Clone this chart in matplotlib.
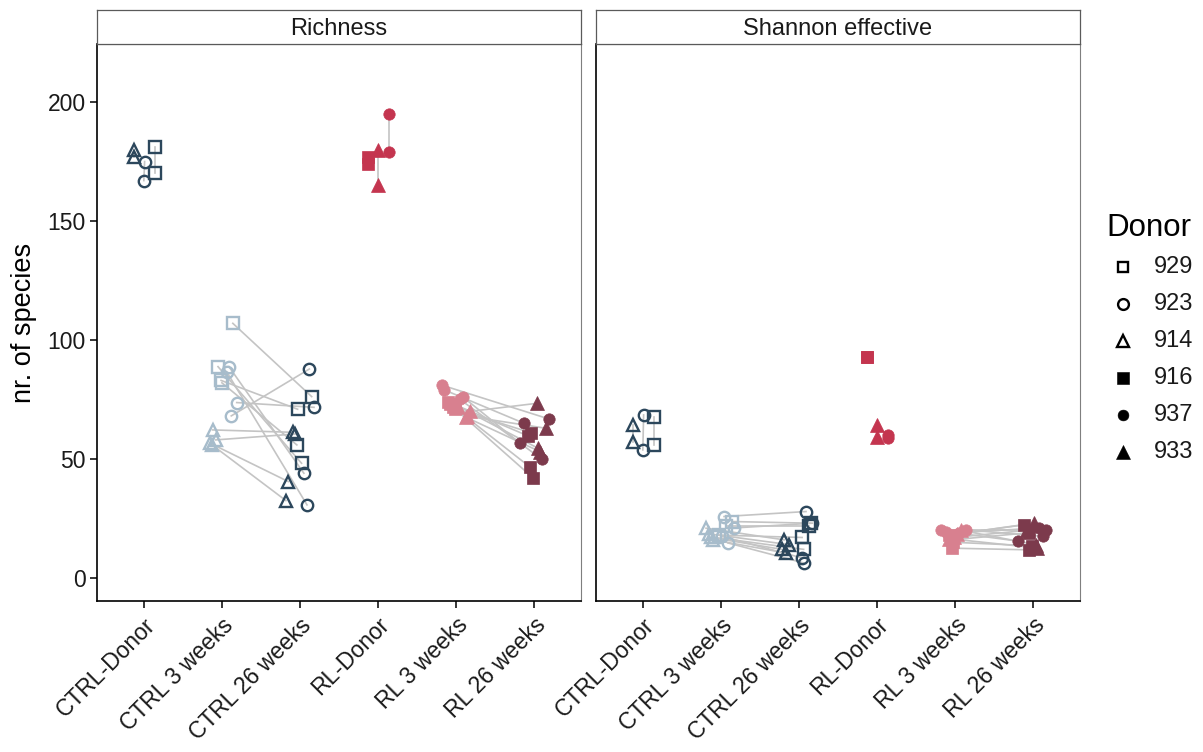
import matplotlib
matplotlib.use("Agg")
import matplotlib.pyplot as plt
from matplotlib.lines import Line2D
import numpy as np

plt.rcParams['font.family'] = ['Liberation Sans', 'DejaVu Sans']

# ---------------- data ----------------
categories = ["CTRL-Donor", "CTRL 3 weeks", "CTRL 26 weeks", "RL-Donor", "RL 3 weeks", "RL 26 weeks"]
panels = ["Richness", "Shannon effective"]
donor_labels = ["929", "923", "914", "916", "937", "933"]

# donor samples (two per donor)
ctrl_donor_ids = ["929", "929", "923", "923", "914", "914"]
rich_ctrl_donor = [181, 170, 175, 167, 180, 177]
shan_ctrl_donor = [67.8, 55.9, 68.5, 53.8, 64.3, 57.3]
ctrl_donor_jit = [0.14, 0.14, 0.01, 0.0, -0.13, -0.13]

rl_donor_ids = ["916", "916", "937", "937", "933", "933"]
rich_rl_donor = [177, 174, 195, 179, 180, 165]
shan_rl_donor = [93, 93, 60, 58.7, 64.3, 59.4]
rl_donor_jit = [-0.13, -0.13, 0.14, 0.14, 0.0, 0.0]

# CTRL mice (paired 3 weeks -> 26 weeks)
ctrl_mouse_ids = ["929"] * 4 + ["923"] * 4 + ["914"] * 4
rich_ctrl_3w = [107, 88.8, 83, 82, 88.8, 86.7, 73.7, 68.1, 62.2, 58, 56.6, 56]
rich_ctrl_26w = [76.2, 48.2, 70.9, 55.9, 44, 30.7, 71.7, 87.8, 61.2, 60.5, 40.5, 32.5]
rich_ctrl_3w_jit = [0.14, -0.05, -0.01, 0.0, 0.09, 0.06, 0.19, 0.12, -0.12, -0.08, -0.15, -0.13]
rich_ctrl_26w_jit = [0.15, 0.02, -0.03, -0.04, 0.05, 0.09, 0.18, 0.12, -0.09, -0.06, -0.15, -0.18]

shan_ctrl_3w = [23.7, 22, 18, 17, 25.8, 21, 17.5, 14.7, 20.9, 18.5, 17, 16]
shan_ctrl_26w = [23, 22, 17, 12, 27.9, 23, 8.4, 6.3, 16, 14, 12, 10.5]
shan_ctrl_3w_jit = [0.14, 0.06, -0.03, -0.08, 0.04, 0.17, 0.01, 0.09, -0.19, -0.15, -0.13, -0.1]
shan_ctrl_26w_jit = [0.15, 0.13, 0.04, 0.06, 0.09, 0.17, 0.04, 0.06, -0.19, -0.13, -0.22, -0.17]

# RL mice (paired 3 weeks -> 26 weeks)
rl_mouse_ids = ["916"] * 4 + ["937"] * 4 + ["933"] * 4
rich_rl_3w = [74, 72, 73, 71, 81, 79, 76, 75, 70, 68, 72, 67.5]
rich_rl_26w = [59.7, 46.5, 41.9, 61, 66.8, 65, 56.6, 49.9, 73.4, 62.9, 54.5, 53]
rich_rl_3w_jit = [-0.1, -0.04, -0.08, -0.01, -0.18, -0.15, 0.09, 0.05, 0.18, 0.14, 0.03, 0.13]
rich_rl_26w_jit = [-0.08, -0.05, -0.01, -0.04, 0.19, -0.13, -0.18, 0.1, 0.04, 0.15, 0.05, 0.08]

shan_rl_3w = [18, 16, 15, 12.5, 20.2, 20.2, 19.5, 19, 18.5, 17, 16.5, 20]
shan_rl_26w = [22.3, 19, 13.5, 11.8, 20.2, 17.5, 15.5, 21, 23, 20, 12.6, 14]
shan_rl_3w_jit = [-0.08, -0.04, -0.03, -0.04, -0.18, 0.14, -0.12, 0.05, 0.03, -0.01, -0.08, 0.08]
shan_rl_26w_jit = [-0.12, -0.05, -0.01, -0.05, 0.17, 0.12, -0.2, 0.08, 0.01, -0.08, 0.05, 0.03]

# ---------------- style ----------------
group_colors = ["#2c475c", "#a7bccb", "#2c475c", "#c4354f", "#d8808f", "#7c3a4c"]
donor_marker = {"929": "s", "923": "o", "914": "^", "916": "s", "937": "o", "933": "^"}
donor_filled = {"929": False, "923": False, "914": False, "916": True, "937": True, "933": True}
marker_size = {"s": 8.0, "o": 8.2, "^": 9.0}
filled_size = {"s": 8.6, "o": 8.2, "^": 10.0}
line_color = "#c4c4c4"

W, H = 1203, 752
fig = plt.figure(figsize=(W / 100, H / 100), dpi=100)

def fx(px):
    return px / W

def fy(py):
    return 1 - py / H

panel_x = [97, 596]
panel_w = 484
top, bottom = 44, 601
strip_top = 10

def draw_point(ax, x, y, donor, color):
    m = donor_marker[donor]
    if donor_filled[donor]:
        ax.plot([x], [y], marker=m, ms=filled_size[m], mfc=color, mec=color, mew=0.5,
                ls="none", zorder=3)
    else:
        ax.plot([x], [y], marker=m, ms=marker_size[m], mfc="none", mec=color, mew=1.7,
                ls="none", zorder=3)

panel_data = [
    dict(cd=rich_ctrl_donor, rd=rich_rl_donor,
         c3=rich_ctrl_3w, c26=rich_ctrl_26w, c3j=rich_ctrl_3w_jit, c26j=rich_ctrl_26w_jit,
         r3=rich_rl_3w, r26=rich_rl_26w, r3j=rich_rl_3w_jit, r26j=rich_rl_26w_jit),
    dict(cd=shan_ctrl_donor, rd=shan_rl_donor,
         c3=shan_ctrl_3w, c26=shan_ctrl_26w, c3j=shan_ctrl_3w_jit, c26j=shan_ctrl_26w_jit,
         r3=shan_rl_3w, r26=shan_rl_26w, r3j=shan_rl_3w_jit, r26j=shan_rl_26w_jit),
]

pos = {c: i + 1 for i, c in enumerate(categories)}

for pi, (title, d) in enumerate(zip(panels, panel_data)):
    ax = fig.add_axes([fx(panel_x[pi]), fy(bottom), fx(panel_w), (bottom - top) / H])
    ax.set_xlim(0.4, 6.6)
    ax.set_ylim(-9.7, 224.4)

    # donor groups: vertical lines between the two samples of each donor
    for ids, vals, jit, cat in [(ctrl_donor_ids, d["cd"], ctrl_donor_jit, "CTRL-Donor"),
                                (rl_donor_ids, d["rd"], rl_donor_jit, "RL-Donor")]:
        ci = pos[cat]
        for k in range(0, len(ids), 2):
            ax.plot([ci + jit[k], ci + jit[k + 1]], [vals[k], vals[k + 1]], color=line_color,
                    lw=1.2, zorder=1)
        for k in range(len(ids)):
            draw_point(ax, ci + jit[k], vals[k], ids[k], group_colors[ci - 1])

    # paired mice
    for ids, v3, v26, j3, j26, c3, c26 in [
        (ctrl_mouse_ids, d["c3"], d["c26"], d["c3j"], d["c26j"], "CTRL 3 weeks", "CTRL 26 weeks"),
        (rl_mouse_ids, d["r3"], d["r26"], d["r3j"], d["r26j"], "RL 3 weeks", "RL 26 weeks")]:
        a, b = pos[c3], pos[c26]
        for k in range(len(ids)):
            ax.plot([a + j3[k], b + j26[k]], [v3[k], v26[k]], color=line_color, lw=1.2, zorder=1)
        for k in range(len(ids)):
            draw_point(ax, a + j3[k], v3[k], ids[k], group_colors[a - 1])
            draw_point(ax, b + j26[k], v26[k], ids[k], group_colors[b - 1])

    ax.set_xticks(range(1, 7))
    ax.set_xticklabels(categories, rotation=45, ha="right", rotation_mode="anchor",
                       fontsize=16.5, color="#1a1a1a")
    ax.set_yticks([0, 50, 100, 150, 200])
    if pi == 0:
        ax.set_yticklabels(["0", "50", "100", "150", "200"], fontsize=16.5, color="#1a1a1a")
        ax.set_ylabel("nr. of species", fontsize=19.5, color="black", labelpad=8)
        ax.tick_params(axis="y", length=5, width=1.1, color="black", pad=3)
    else:
        ax.tick_params(axis="y", length=0, labelleft=False)
    ax.tick_params(axis="x", length=5, width=1.1, color="black", pad=4)
    for s in ["top", "right"]:
        ax.spines[s].set_color("#7f7f7f")
        ax.spines[s].set_linewidth(0.8)
    for s in ["left", "bottom"]:
        ax.spines[s].set_color("black")
        ax.spines[s].set_linewidth(1.2)

    # strip
    sax = fig.add_axes([fx(panel_x[pi]), fy(top), fx(panel_w), (top - strip_top) / H])
    sax.set_xticks([])
    sax.set_yticks([])
    for s in sax.spines.values():
        s.set_color("#5a5a5a")
        s.set_linewidth(0.9)
    sax.text(0.5, 0.45, title, ha="center", va="center", fontsize=17, color="#1a1a1a",
             transform=sax.transAxes)

# legend (manual, ggplot style)
fig.text(fx(1106), fy(228), "Donor", fontsize=22.5, ha="left", va="center", color="black")
for i, lab in enumerate(donor_labels):
    yy = fy(267 + 37 * i)
    m = donor_marker[lab]
    if donor_filled[lab]:
        fig.add_artist(Line2D([fx(1123)], [yy], marker=m, ms=filled_size[m] * 0.95, mfc="black",
                              mec="black", mew=0.4, ls="none", transform=fig.transFigure))
    else:
        fig.add_artist(Line2D([fx(1123)], [yy], marker=m, ms=marker_size[m] * 0.95, mfc="none",
                              mec="black", mew=1.7, ls="none", transform=fig.transFigure))
    fig.text(fx(1154), yy, lab, fontsize=17, ha="left", va="center", color="#1a1a1a")

fig.savefig("out.png", dpi=100)
